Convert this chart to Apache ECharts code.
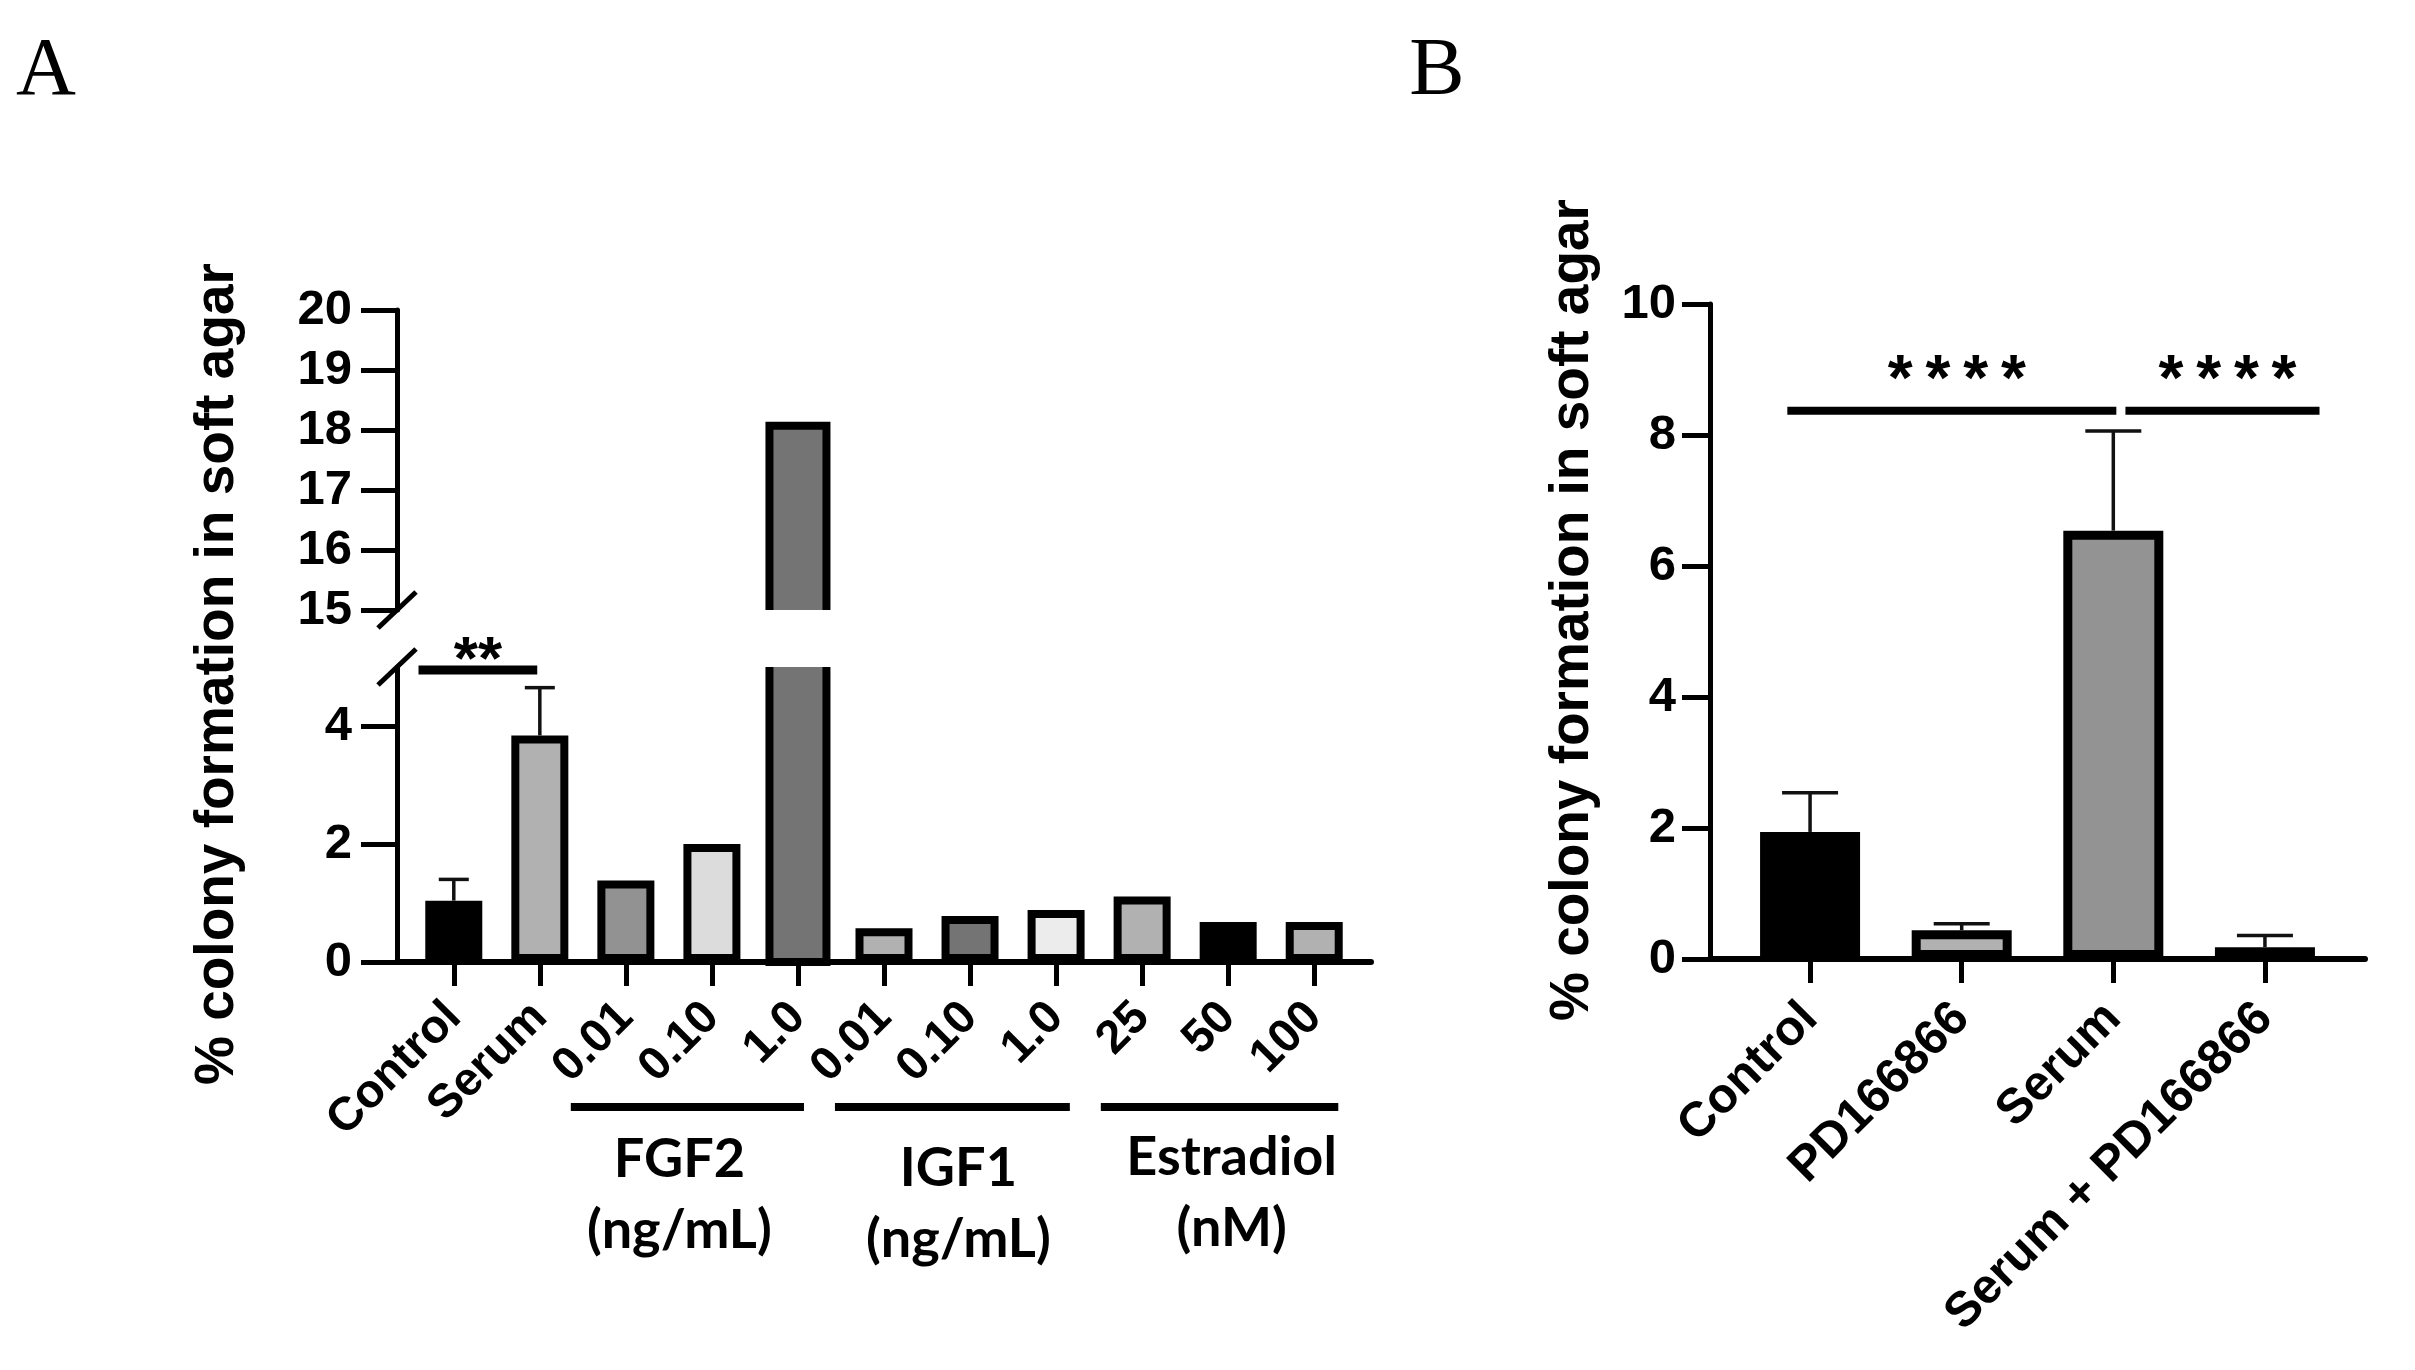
<!DOCTYPE html>
<html>
<head>
<meta charset="utf-8">
<script src="https://cdn.jsdelivr.net/npm/echarts@6/dist/echarts.min.js"></script>
<style>
  html, body { margin: 0; padding: 0; background: #fff; }
  #main { width: 2415px; height: 1370px; }
</style>
</head>
<body>
<div id="main"></div>
<script>
// ---- panel A data ----
var catsA = ['Control', 'Serum', '0.01', '0.10', '1.0', '0.01', '0.10', '1.0', '25', '50', '100'];
var valsA = [1.04, 3.84, 1.38, 2.0, 18.07, 0.57, 0.78, 0.88, 1.11, 0.68, 0.68];
var errTopA = [1.40, 4.65, null, null, null, null, null, null, null, null, null];
var fillA = ['#000000', '#b1b1b1', '#929292', '#dcdcdc', '#747474', '#b1b1b1', '#747474', '#ececec', '#b1b1b1', '#000000', '#b1b1b1'];
var ticksUpperA = [15, 16, 17, 18, 19, 20];
var ticksLowerA = [0, 2, 4];
var groupNames = ['FGF2', 'IGF1', 'Estradiol'];
var groupUnits = ['(ng/mL)', '(ng/mL)', '(nM)'];
var groupSpan = [[1.36, 4.07], [4.43, 7.16], [7.52, 10.28]];
var sigA = [{from: -0.41, to: 0.97, y: 4.95, text: '**'}];

// broken axis of panel A
var lowerMaxA = 5, upperMinA = 15, upperMaxA = 20;

// ---- panel B data ----
var catsB = ['Control', 'PD166866', 'Serum', 'Serum + PD166866'];
var valsB = [1.94, 0.44, 6.54, 0.18];
var errTopB = [2.54, 0.54, 8.06, 0.36];
var fillB = ['#000000', '#b1b1b1', '#939393', '#1c1c1c'];
var ticksB = [0, 2, 4, 6, 8, 10];
var sigB = [{from: -0.15, to: 2.02, y: 8.37, text: '*\u2009*\u2009*\u2009*'},
            {from: 2.08, to: 3.36, y: 8.37, text: '*\u2009*\u2009*\u2009*'}];

var FONT = '"Liberation Sans", Arial, sans-serif';
var chart = echarts.init(document.getElementById('main'));

function idx(arr) { return arr.map(function (c, i) { return i; }); }

function barData(vals, fills, keep) {
  var out = [];
  for (var i = 0; i < vals.length; i++) {
    if (keep && !keep(vals[i])) continue;
    out.push({ value: [i, vals[i]], itemStyle: { color: fills[i] } });
  }
  return out;
}

function errData(vals, tops) {
  var out = [];
  for (var i = 0; i < vals.length; i++) {
    if (tops[i] != null) out.push([i, vals[i], tops[i]]);
  }
  return out;
}

function errSeries(xi, yi, data, cap) {
  return {
    type: 'custom', xAxisIndex: xi, yAxisIndex: yi, data: data, z: 5,
    renderItem: function (params, api) {
      var x = api.value(0);
      var a = api.coord([x, api.value(1)]);
      var b = api.coord([x, api.value(2)]);
      var st = { stroke: '#111', lineWidth: 3.5 };
      return { type: 'group', children: [
        { type: 'line', shape: { x1: a[0], y1: a[1], x2: b[0], y2: b[1] }, style: st },
        { type: 'line', shape: { x1: b[0] - cap / 2, y1: b[1], x2: b[0] + cap / 2, y2: b[1] }, style: st }
      ] };
    }
  };
}

// bars that cross the axis break: open at the break side
function brokenSeries(grid, upper, width, bw) {
  var data = [];
  for (var i = 0; i < valsA.length; i++) {
    if (valsA[i] > lowerMaxA) data.push([i, valsA[i]]);
  }
  return {
    type: 'custom', xAxisIndex: grid, yAxisIndex: grid, data: data, z: 3,
    renderItem: function (params, api) {
      var i = api.value(0), v = api.value(1);
      var lo = upper ? upperMinA : 0;
      var hi = upper ? Math.min(v, upperMaxA) : lowerMaxA;
      var pLo = api.coord([i, lo]), pHi = api.coord([i, hi]);
      var xl = pLo[0] - width / 2, xr = pLo[0] + width / 2;
      var pts = upper
        ? [[xl, pLo[1]], [xl, pHi[1]], [xr, pHi[1]], [xr, pLo[1]]]
        : [[xl, pHi[1]], [xl, pLo[1]], [xr, pLo[1]], [xr, pHi[1]]];
      return { type: 'group', children: [
        { type: 'rect', shape: { x: xl, y: pHi[1], width: width, height: pLo[1] - pHi[1] },
          style: { fill: fillA[i] } },
        { type: 'polyline', shape: { points: pts }, style: { stroke: '#000', lineWidth: bw, fill: null } }
      ] };
    }
  };
}

function yAxis(grid, min, max, ticks, tickLen, margin) {
  return {
    type: 'value', gridIndex: grid, min: min, max: max,
    axisLine: { show: true, onZero: false, lineStyle: { color: '#000', width: 5 } },
    axisTick: { show: true, length: tickLen, customValues: ticks, lineStyle: { color: '#000', width: 5 } },
    axisLabel: { customValues: ticks, color: '#000', fontSize: 49, fontWeight: 'bold', fontFamily: FONT, margin: margin },
    splitLine: { show: false }
  };
}

function xAxis(grid, cats, min, max, show, fontSize, margin) {
  return {
    type: 'value', gridIndex: grid, min: min, max: max, show: show,
    axisLine: { show: true, onZero: false, lineStyle: { color: '#000', width: 6 } },
    axisTick: { show: true, length: 24, customValues: idx(cats), lineStyle: { color: '#000', width: 5 } },
    axisLabel: {
      customValues: idx(cats), rotate: 45, margin: margin, color: '#000',
      fontSize: fontSize, fontWeight: 'bold', fontFamily: FONT,
      formatter: function (v) { return cats[Math.round(v)]; }
    },
    splitLine: { show: false }
  };
}

var barStyle = { borderColor: '#000', borderWidth: 8 };

var option = {
  backgroundColor: '#fff',
  animation: false,
  grid: [
    { left: 397, top: 310, width: 974, height: 300 },
    { left: 397, top: 667, width: 974, height: 295 },
    { left: 1710, top: 304, width: 655, height: 655 }
  ],
  xAxis: [
    xAxis(0, catsA, -0.66, 10.66, false, 47, 48),
    xAxis(1, catsA, -0.66, 10.66, true, 47, 48),
    xAxis(2, catsB, -0.66, 3.66, true, 49, 52)
  ],
  yAxis: [
    yAxis(0, upperMinA, upperMaxA, ticksUpperA, 36, 45),
    yAxis(1, 0, lowerMaxA, ticksLowerA, 36, 45),
    yAxis(2, 0, 10, ticksB, 28, 34)
  ],
  series: [
    brokenSeries(0, true, 57, 8),
    brokenSeries(1, false, 57, 8),
    { type: 'bar', xAxisIndex: 1, yAxisIndex: 1, barWidth: 57, itemStyle: barStyle,
      data: barData(valsA, fillA, function (v) { return v <= lowerMaxA; }) },
    errSeries(1, 1, errData(valsA, errTopA), 30),
    { type: 'bar', xAxisIndex: 2, yAxisIndex: 2, barWidth: 100,
      itemStyle: { borderColor: '#000', borderWidth: 9 },
      data: barData(valsB, fillB) },
    errSeries(2, 2, errData(valsB, errTopB), 56)
  ]
};
chart.setOption(option);

// ---- annotations placed through the axes ----
function px(grid, x, y) { return chart.convertToPixel({ gridIndex: grid }, [x, y]); }
function hline(p0, p1, w) {
  return { type: 'line', shape: { x1: p0[0], y1: p0[1], x2: p1[0], y2: p1[1] }, style: { stroke: '#000', lineWidth: w } };
}
function txt(x, y, s, font, rot) {
  return { type: 'text', x: x, y: y, rotation: rot || 0,
    style: { text: s, font: font, fill: '#000', align: 'center', verticalAlign: 'middle' } };
}

var g = [];
// axis break marks
var b1 = px(0, -0.66, upperMinA), b2 = px(1, -0.66, lowerMaxA);
[b1, b2].forEach(function (p) {
  g.push(hline([p[0] - 19, p[1] + 18], [p[0] + 19, p[1] - 18], 5));
});

// significance bars
sigA.forEach(function (s) {
  var p0 = px(1, s.from, s.y), p1 = px(1, s.to, s.y);
  g.push(hline(p0, p1, 9));
  g.push(txt((p0[0] + p1[0]) / 2, p0[1] - 8, s.text, 'bold 62px ' + FONT));
});
sigB.forEach(function (s) {
  var p0 = px(2, s.from, s.y), p1 = px(2, s.to, s.y);
  g.push(hline(p0, p1, 8));
  g.push(txt((p0[0] + p1[0]) / 2 + 5, p0[1] - 28, s.text, 'bold 64px ' + FONT));
});

// group bars under panel A categories
var groupDx = [-8, 6, 12], groupDy = [0, 9, -2];
groupSpan.forEach(function (sp, i) {
  var p0 = px(1, sp[0], 0), p1 = px(1, sp[1], 0);
  var yl = p0[1] + 145;
  g.push(hline([p0[0], yl], [p1[0], yl], 8));
  var cx = (p0[0] + p1[0]) / 2 + groupDx[i];
  g.push(txt(cx, yl + 53 + groupDy[i], groupNames[i], 'bold 54px Lato, "Noto Sans", sans-serif'));
  g.push(txt(cx, yl + 124 + groupDy[i], groupUnits[i], 'bold 54px Lato, "Noto Sans", sans-serif'));
});

// axis titles and panel letters
g.push(txt(218, 674, '% colony formation in soft agar', 'bold 55px ' + FONT, Math.PI / 2));
g.push(txt(1573, 610, '% colony formation in soft agar', 'bold 55px ' + FONT, Math.PI / 2));
g.push(txt(46, 72, 'A', '83px "Liberation Serif", serif'));
g.push(txt(1437, 72, 'B', '83px "Liberation Serif", serif'));

chart.setOption({ graphic: g });
</script>
</body>
</html>
